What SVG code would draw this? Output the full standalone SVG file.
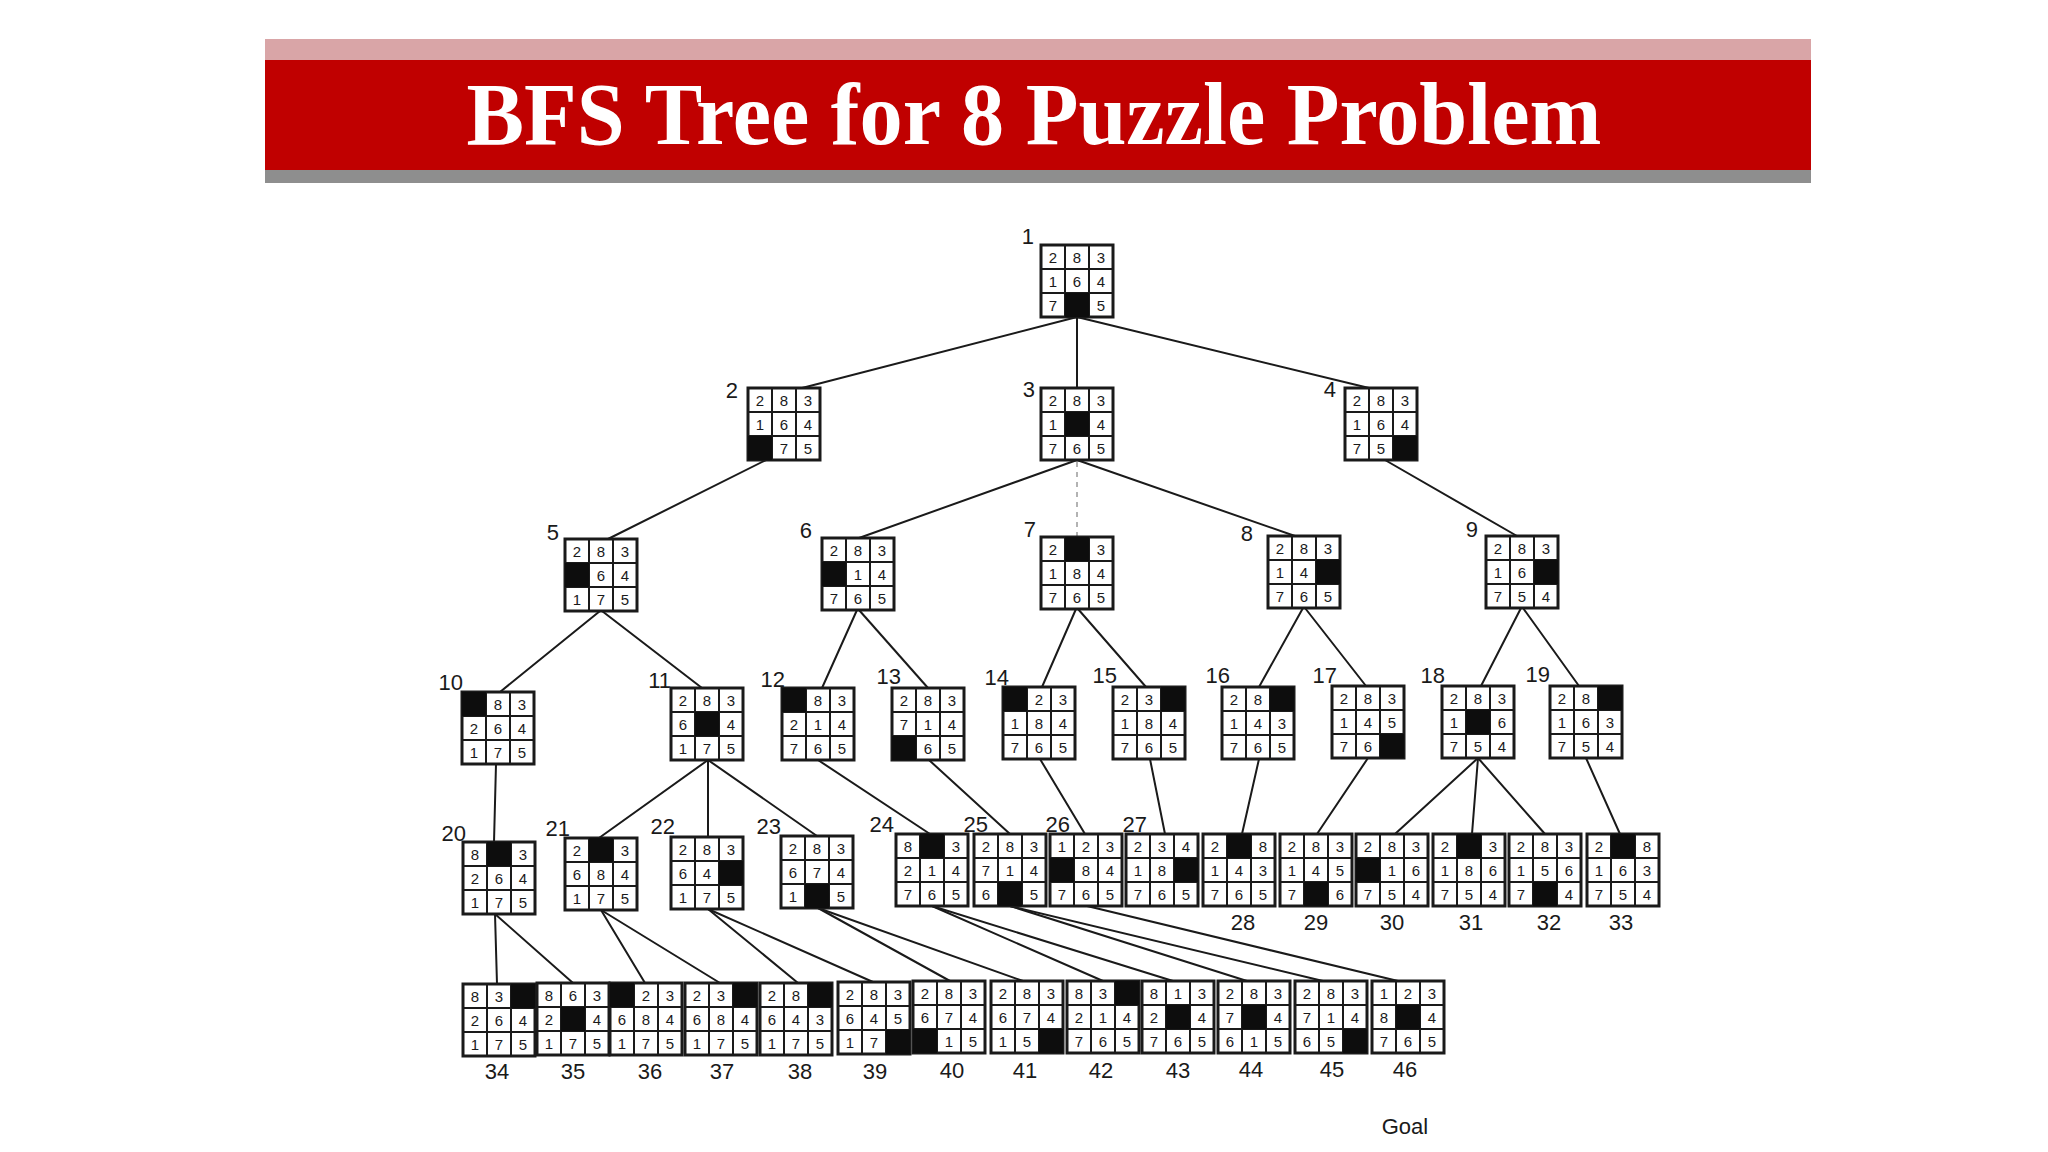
<svg xmlns="http://www.w3.org/2000/svg" xmlns:xlink="http://www.w3.org/1999/xlink" width="2048" height="1152" viewBox="0 0 2048 1152">
<style>
.e{stroke:#1a1a1a;stroke-width:2;fill:none;stroke-linecap:round}
.dash{stroke:#9a9a9a;stroke-width:1.5;stroke-dasharray:5 5;fill:none}
.gb{fill:#fff;stroke:#1a1a1a;stroke-width:3}
.gl{stroke:#1a1a1a;stroke-width:2;fill:none}
.k{fill:#0d0d0d}
text.d{font-family:"Liberation Sans",Arial,sans-serif;font-size:15px;fill:#1a1a1a;text-anchor:middle}
text.lb{font-family:"Liberation Sans",Arial,sans-serif;font-size:22px;fill:#1a1a1a;text-anchor:end}
text.lc{font-family:"Liberation Sans",Arial,sans-serif;font-size:22px;fill:#1a1a1a;text-anchor:middle}
</style>
<defs>
<g id="g"><rect class="gb" x="0" y="0" width="72" height="72"/><path class="gl" d="M24 0V72M48 0V72M0 24H72M0 48H72"/></g>
</defs>
<rect width="2048" height="1152" fill="#fff"/>
<g id="title">
<rect x="265" y="39" width="1546" height="22" fill="#d9a5a7"/>
<rect x="265" y="60" width="1546" height="110" fill="#c00000"/>
<rect x="265" y="170" width="1546" height="13" fill="#8e8e8e"/>
<text x="1034" y="144" font-family="'Liberation Serif','Times New Roman',serif" font-weight="bold" font-size="88" fill="#fff" text-anchor="middle" textLength="1135" lengthAdjust="spacingAndGlyphs">BFS Tree for 8 Puzzle Problem</text>
</g>
<g id="edges">
<line class="e" x1="1077" y1="317" x2="802" y2="388"/>
<line class="e" x1="1077" y1="317" x2="1077" y2="388"/>
<line class="e" x1="1077" y1="317" x2="1369" y2="388"/>
<line class="e" x1="766" y1="460" x2="608" y2="539"/>
<line class="e" x1="1077" y1="460" x2="859" y2="538"/>
<line class="dash" x1="1077" y1="462" x2="1077" y2="537"/>
<line class="e" x1="1077" y1="460" x2="1295" y2="536"/>
<line class="e" x1="1385" y1="460" x2="1517" y2="536"/>
<line class="e" x1="600" y1="611" x2="500" y2="692"/>
<line class="e" x1="602" y1="611" x2="702" y2="688"/>
<line class="e" x1="857" y1="610" x2="822" y2="688"/>
<line class="e" x1="859" y1="610" x2="928" y2="688"/>
<line class="e" x1="1076" y1="609" x2="1042" y2="687"/>
<line class="e" x1="1078" y1="609" x2="1146" y2="687"/>
<line class="e" x1="1303" y1="608" x2="1259" y2="687"/>
<line class="e" x1="1305" y1="608" x2="1366" y2="686"/>
<line class="e" x1="1521" y1="608" x2="1481" y2="686"/>
<line class="e" x1="1523" y1="608" x2="1579" y2="686"/>
<line class="e" x1="496" y1="764" x2="494" y2="842"/>
<line class="e" x1="708" y1="760" x2="599" y2="838"/>
<line class="e" x1="708" y1="760" x2="708" y2="837"/>
<line class="e" x1="708" y1="760" x2="817" y2="836"/>
<line class="e" x1="818" y1="760" x2="930" y2="834"/>
<line class="e" x1="929" y1="760" x2="1010" y2="834"/>
<line class="e" x1="1040" y1="759" x2="1085" y2="834"/>
<line class="e" x1="1150" y1="759" x2="1165" y2="834"/>
<line class="e" x1="1259" y1="759" x2="1242" y2="834"/>
<line class="e" x1="1368" y1="758" x2="1317" y2="834"/>
<line class="e" x1="1478" y1="758" x2="1395" y2="834"/>
<line class="e" x1="1478" y1="758" x2="1472" y2="834"/>
<line class="e" x1="1478" y1="758" x2="1545" y2="834"/>
<line class="e" x1="1586" y1="758" x2="1620" y2="834"/>
<line class="e" x1="495" y1="914" x2="497" y2="984"/>
<line class="e" x1="495" y1="914" x2="573" y2="983"/>
<line class="e" x1="601" y1="910" x2="645" y2="983"/>
<line class="e" x1="601" y1="910" x2="720" y2="983"/>
<line class="e" x1="708" y1="909" x2="798" y2="983"/>
<line class="e" x1="708" y1="909" x2="873" y2="982"/>
<line class="e" x1="818" y1="908" x2="950" y2="981"/>
<line class="e" x1="818" y1="908" x2="1023" y2="981"/>
<line class="e" x1="932" y1="906" x2="1103" y2="981"/>
<line class="e" x1="932" y1="906" x2="1173" y2="981"/>
<line class="e" x1="1010" y1="906" x2="1247" y2="981"/>
<line class="e" x1="1010" y1="906" x2="1323" y2="981"/>
<line class="e" x1="1087" y1="906" x2="1398" y2="981"/>
</g>
<g id="n1" transform="translate(1041,245)"><use href="#g"/><rect class="k" x="24" y="48" width="24" height="24"/><text class="d" x="12 36 60" y="18">283</text><text class="d" x="12 36 60" y="42">164</text><text class="d" x="12 60" y="66">75</text><text class="lb" x="-7" y="-1">1</text></g>
<g id="n2" transform="translate(748,388)"><use href="#g"/><rect class="k" x="0" y="48" width="24" height="24"/><text class="d" x="12 36 60" y="18">283</text><text class="d" x="12 36 60" y="42">164</text><text class="d" x="36 60" y="66">75</text><text class="lb" x="-10" y="10">2</text></g>
<g id="n3" transform="translate(1041,388)"><use href="#g"/><rect class="k" x="24" y="24" width="24" height="24"/><text class="d" x="12 36 60" y="18">283</text><text class="d" x="12 60" y="42">14</text><text class="d" x="12 36 60" y="66">765</text><text class="lb" x="-6" y="9">3</text></g>
<g id="n4" transform="translate(1345,388)"><use href="#g"/><rect class="k" x="48" y="48" width="24" height="24"/><text class="d" x="12 36 60" y="18">283</text><text class="d" x="12 36 60" y="42">164</text><text class="d" x="12 36" y="66">75</text><text class="lb" x="-9" y="9">4</text></g>
<g id="n5" transform="translate(565,539)"><use href="#g"/><rect class="k" x="0" y="24" width="24" height="24"/><text class="d" x="12 36 60" y="18">283</text><text class="d" x="36 60" y="42">64</text><text class="d" x="12 36 60" y="66">175</text><text class="lb" x="-6" y="1">5</text></g>
<g id="n6" transform="translate(822,538)"><use href="#g"/><rect class="k" x="0" y="24" width="24" height="24"/><text class="d" x="12 36 60" y="18">283</text><text class="d" x="36 60" y="42">14</text><text class="d" x="12 36 60" y="66">765</text><text class="lb" x="-10" y="0">6</text></g>
<g id="n7" transform="translate(1041,537)"><use href="#g"/><rect class="k" x="24" y="0" width="24" height="24"/><text class="d" x="12 60" y="18">23</text><text class="d" x="12 36 60" y="42">184</text><text class="d" x="12 36 60" y="66">765</text><text class="lb" x="-5" y="0">7</text></g>
<g id="n8" transform="translate(1268,536)"><use href="#g"/><rect class="k" x="48" y="24" width="24" height="24"/><text class="d" x="12 36 60" y="18">283</text><text class="d" x="12 36" y="42">14</text><text class="d" x="12 36 60" y="66">765</text><text class="lb" x="-15" y="5">8</text></g>
<g id="n9" transform="translate(1486,536)"><use href="#g"/><rect class="k" x="48" y="24" width="24" height="24"/><text class="d" x="12 36 60" y="18">283</text><text class="d" x="12 36" y="42">16</text><text class="d" x="12 36 60" y="66">754</text><text class="lb" x="-8" y="1">9</text></g>
<g id="n10" transform="translate(462,692)"><use href="#g"/><rect class="k" x="0" y="0" width="24" height="24"/><text class="d" x="36 60" y="18">83</text><text class="d" x="12 36 60" y="42">264</text><text class="d" x="12 36 60" y="66">175</text><text class="lb" x="1" y="-2">10</text></g>
<g id="n11" transform="translate(671,688)"><use href="#g"/><rect class="k" x="24" y="24" width="24" height="24"/><text class="d" x="12 36 60" y="18">283</text><text class="d" x="12 60" y="42">64</text><text class="d" x="12 36 60" y="66">175</text><text class="lb" x="0" y="0">11</text></g>
<g id="n12" transform="translate(782,688)"><use href="#g"/><rect class="k" x="0" y="0" width="24" height="24"/><text class="d" x="36 60" y="18">83</text><text class="d" x="12 36 60" y="42">214</text><text class="d" x="12 36 60" y="66">765</text><text class="lb" x="3" y="-1">12</text></g>
<g id="n13" transform="translate(892,688)"><use href="#g"/><rect class="k" x="0" y="48" width="24" height="24"/><text class="d" x="12 36 60" y="18">283</text><text class="d" x="12 36 60" y="42">714</text><text class="d" x="36 60" y="66">65</text><text class="lb" x="9" y="-4">13</text></g>
<g id="n14" transform="translate(1003,687)"><use href="#g"/><rect class="k" x="0" y="0" width="24" height="24"/><text class="d" x="36 60" y="18">23</text><text class="d" x="12 36 60" y="42">184</text><text class="d" x="12 36 60" y="66">765</text><text class="lb" x="6" y="-2">14</text></g>
<g id="n15" transform="translate(1113,687)"><use href="#g"/><rect class="k" x="48" y="0" width="24" height="24"/><text class="d" x="12 36" y="18">23</text><text class="d" x="12 36 60" y="42">184</text><text class="d" x="12 36 60" y="66">765</text><text class="lb" x="4" y="-4">15</text></g>
<g id="n16" transform="translate(1222,687)"><use href="#g"/><rect class="k" x="48" y="0" width="24" height="24"/><text class="d" x="12 36" y="18">28</text><text class="d" x="12 36 60" y="42">143</text><text class="d" x="12 36 60" y="66">765</text><text class="lb" x="8" y="-4">16</text></g>
<g id="n17" transform="translate(1332,686)"><use href="#g"/><rect class="k" x="48" y="48" width="24" height="24"/><text class="d" x="12 36 60" y="18">283</text><text class="d" x="12 36 60" y="42">145</text><text class="d" x="12 36" y="66">76</text><text class="lb" x="5" y="-3">17</text></g>
<g id="n18" transform="translate(1442,686)"><use href="#g"/><rect class="k" x="24" y="24" width="24" height="24"/><text class="d" x="12 36 60" y="18">283</text><text class="d" x="12 60" y="42">16</text><text class="d" x="12 36 60" y="66">754</text><text class="lb" x="3" y="-3">18</text></g>
<g id="n19" transform="translate(1550,686)"><use href="#g"/><rect class="k" x="48" y="0" width="24" height="24"/><text class="d" x="12 36" y="18">28</text><text class="d" x="12 36 60" y="42">163</text><text class="d" x="12 36 60" y="66">754</text><text class="lb" x="0" y="-4">19</text></g>
<g id="n20" transform="translate(463,842)"><use href="#g"/><rect class="k" x="24" y="0" width="24" height="24"/><text class="d" x="12 60" y="18">83</text><text class="d" x="12 36 60" y="42">264</text><text class="d" x="12 36 60" y="66">175</text><text class="lb" x="3" y="-1">20</text></g>
<g id="n21" transform="translate(565,838)"><use href="#g"/><rect class="k" x="24" y="0" width="24" height="24"/><text class="d" x="12 60" y="18">23</text><text class="d" x="12 36 60" y="42">684</text><text class="d" x="12 36 60" y="66">175</text><text class="lb" x="5" y="-2">21</text></g>
<g id="n22" transform="translate(671,837)"><use href="#g"/><rect class="k" x="48" y="24" width="24" height="24"/><text class="d" x="12 36 60" y="18">283</text><text class="d" x="12 36" y="42">64</text><text class="d" x="12 36 60" y="66">175</text><text class="lb" x="4" y="-3">22</text></g>
<g id="n23" transform="translate(781,836)"><use href="#g"/><rect class="k" x="24" y="48" width="24" height="24"/><text class="d" x="12 36 60" y="18">283</text><text class="d" x="12 36 60" y="42">674</text><text class="d" x="12 60" y="66">15</text><text class="lb" x="0" y="-2">23</text></g>
<g id="n24" transform="translate(896,834)"><use href="#g"/><rect class="k" x="24" y="0" width="24" height="24"/><text class="d" x="12 60" y="18">83</text><text class="d" x="12 36 60" y="42">214</text><text class="d" x="12 36 60" y="66">765</text><text class="lb" x="-2" y="-2">24</text></g>
<g id="n25" transform="translate(974,834)"><use href="#g"/><rect class="k" x="24" y="48" width="24" height="24"/><text class="d" x="12 36 60" y="18">283</text><text class="d" x="12 36 60" y="42">714</text><text class="d" x="12 60" y="66">65</text><text class="lb" x="14" y="-2">25</text></g>
<g id="n26" transform="translate(1050,834)"><use href="#g"/><rect class="k" x="0" y="24" width="24" height="24"/><text class="d" x="12 36 60" y="18">123</text><text class="d" x="36 60" y="42">84</text><text class="d" x="12 36 60" y="66">765</text><text class="lb" x="20" y="-2">26</text></g>
<g id="n27" transform="translate(1126,834)"><use href="#g"/><rect class="k" x="48" y="24" width="24" height="24"/><text class="d" x="12 36 60" y="18">234</text><text class="d" x="12 36" y="42">18</text><text class="d" x="12 36 60" y="66">765</text><text class="lb" x="21" y="-2">27</text></g>
<g id="n28" transform="translate(1203,834)"><use href="#g"/><rect class="k" x="24" y="0" width="24" height="24"/><text class="d" x="12 60" y="18">28</text><text class="d" x="12 36 60" y="42">143</text><text class="d" x="12 36 60" y="66">765</text><text class="lc" x="40" y="96">28</text></g>
<g id="n29" transform="translate(1280,834)"><use href="#g"/><rect class="k" x="24" y="48" width="24" height="24"/><text class="d" x="12 36 60" y="18">283</text><text class="d" x="12 36 60" y="42">145</text><text class="d" x="12 60" y="66">76</text><text class="lc" x="36" y="96">29</text></g>
<g id="n30" transform="translate(1356,834)"><use href="#g"/><rect class="k" x="0" y="24" width="24" height="24"/><text class="d" x="12 36 60" y="18">283</text><text class="d" x="36 60" y="42">16</text><text class="d" x="12 36 60" y="66">754</text><text class="lc" x="36" y="96">30</text></g>
<g id="n31" transform="translate(1433,834)"><use href="#g"/><rect class="k" x="24" y="0" width="24" height="24"/><text class="d" x="12 60" y="18">23</text><text class="d" x="12 36 60" y="42">186</text><text class="d" x="12 36 60" y="66">754</text><text class="lc" x="38" y="96">31</text></g>
<g id="n32" transform="translate(1509,834)"><use href="#g"/><rect class="k" x="24" y="48" width="24" height="24"/><text class="d" x="12 36 60" y="18">283</text><text class="d" x="12 36 60" y="42">156</text><text class="d" x="12 60" y="66">74</text><text class="lc" x="40" y="96">32</text></g>
<g id="n33" transform="translate(1587,834)"><use href="#g"/><rect class="k" x="24" y="0" width="24" height="24"/><text class="d" x="12 60" y="18">28</text><text class="d" x="12 36 60" y="42">163</text><text class="d" x="12 36 60" y="66">754</text><text class="lc" x="34" y="96">33</text></g>
<g id="n34" transform="translate(463,984)"><use href="#g"/><rect class="k" x="48" y="0" width="24" height="24"/><text class="d" x="12 36" y="18">83</text><text class="d" x="12 36 60" y="42">264</text><text class="d" x="12 36 60" y="66">175</text><text class="lc" x="34" y="95">34</text></g>
<g id="n35" transform="translate(537,983)"><use href="#g"/><rect class="k" x="24" y="24" width="24" height="24"/><text class="d" x="12 36 60" y="18">863</text><text class="d" x="12 60" y="42">24</text><text class="d" x="12 36 60" y="66">175</text><text class="lc" x="36" y="96">35</text></g>
<g id="n36" transform="translate(610,983)"><use href="#g"/><rect class="k" x="0" y="0" width="24" height="24"/><text class="d" x="36 60" y="18">23</text><text class="d" x="12 36 60" y="42">684</text><text class="d" x="12 36 60" y="66">175</text><text class="lc" x="40" y="96">36</text></g>
<g id="n37" transform="translate(685,983)"><use href="#g"/><rect class="k" x="48" y="0" width="24" height="24"/><text class="d" x="12 36" y="18">23</text><text class="d" x="12 36 60" y="42">684</text><text class="d" x="12 36 60" y="66">175</text><text class="lc" x="37" y="96">37</text></g>
<g id="n38" transform="translate(760,983)"><use href="#g"/><rect class="k" x="48" y="0" width="24" height="24"/><text class="d" x="12 36" y="18">28</text><text class="d" x="12 36 60" y="42">643</text><text class="d" x="12 36 60" y="66">175</text><text class="lc" x="40" y="96">38</text></g>
<g id="n39" transform="translate(838,982)"><use href="#g"/><rect class="k" x="48" y="48" width="24" height="24"/><text class="d" x="12 36 60" y="18">283</text><text class="d" x="12 36 60" y="42">645</text><text class="d" x="12 36" y="66">17</text><text class="lc" x="37" y="97">39</text></g>
<g id="n40" transform="translate(913,981)"><use href="#g"/><rect class="k" x="0" y="48" width="24" height="24"/><text class="d" x="12 36 60" y="18">283</text><text class="d" x="12 36 60" y="42">674</text><text class="d" x="36 60" y="66">15</text><text class="lc" x="39" y="97">40</text></g>
<g id="n41" transform="translate(991,981)"><use href="#g"/><rect class="k" x="48" y="48" width="24" height="24"/><text class="d" x="12 36 60" y="18">283</text><text class="d" x="12 36 60" y="42">674</text><text class="d" x="12 36" y="66">15</text><text class="lc" x="34" y="97">41</text></g>
<g id="n42" transform="translate(1067,981)"><use href="#g"/><rect class="k" x="48" y="0" width="24" height="24"/><text class="d" x="12 36" y="18">83</text><text class="d" x="12 36 60" y="42">214</text><text class="d" x="12 36 60" y="66">765</text><text class="lc" x="34" y="97">42</text></g>
<g id="n43" transform="translate(1142,981)"><use href="#g"/><rect class="k" x="24" y="24" width="24" height="24"/><text class="d" x="12 36 60" y="18">813</text><text class="d" x="12 60" y="42">24</text><text class="d" x="12 36 60" y="66">765</text><text class="lc" x="36" y="97">43</text></g>
<g id="n44" transform="translate(1218,981)"><use href="#g"/><rect class="k" x="24" y="24" width="24" height="24"/><text class="d" x="12 36 60" y="18">283</text><text class="d" x="12 60" y="42">74</text><text class="d" x="12 36 60" y="66">615</text><text class="lc" x="33" y="96">44</text></g>
<g id="n45" transform="translate(1295,981)"><use href="#g"/><rect class="k" x="48" y="48" width="24" height="24"/><text class="d" x="12 36 60" y="18">283</text><text class="d" x="12 36 60" y="42">714</text><text class="d" x="12 36" y="66">65</text><text class="lc" x="37" y="96">45</text></g>
<g id="n46" transform="translate(1372,981)"><use href="#g"/><rect class="k" x="24" y="24" width="24" height="24"/><text class="d" x="12 36 60" y="18">123</text><text class="d" x="12 60" y="42">84</text><text class="d" x="12 36 60" y="66">765</text><text class="lc" x="33" y="96">46</text></g>
<g id="goal"><text class="lc" x="1405" y="1134" font-size="24">Goal</text></g>
</svg>
